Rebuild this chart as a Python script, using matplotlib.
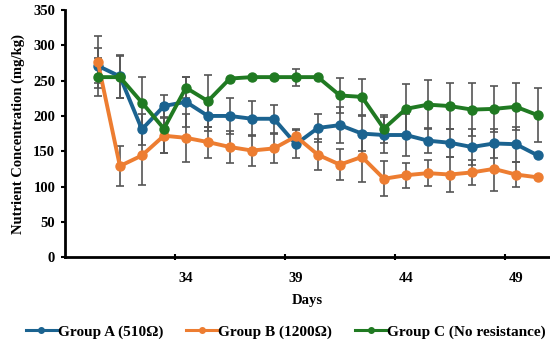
import numpy as np
import matplotlib
matplotlib.use("Agg")
import matplotlib.pyplot as plt
from matplotlib.ticker import FixedLocator

days = list(range(30, 51))

# Group A (510 ohm)
group_a = [271, 256, 181, 214, 220, 200, 200, 196, 196, 160, 183, 187, 175, 173, 173, 165, 162, 156, 161, 160, 144]
group_a_err = [25, 30, 22, 15, 35, 22, 25, 25, 20, 20, 20, 25, 25, 25, 30, 18, 20, 25, 20, 25, 0]

# Group B (1200 ohm)
group_b = [276, 129, 144, 172, 169, 163, 156, 151, 154, 171, 145, 131, 142, 111, 116, 119, 117, 120, 125, 117, 113]
group_b_err = [37, 28, 42, 25, 34, 22, 22, 22, 20, 10, 22, 22, 35, 25, 18, 18, 25, 18, 32, 18, 0]

# Group C (no resistance)
group_c = [255, 255, 219, 182, 240, 221, 253, 255, 255, 255, 255, 229, 227, 182, 210, 216, 214, 209, 210, 213, 201]
group_c_err = [27, 30, 36, 35, 15, 37, 0, 0, 0, 12, 0, 25, 25, 20, 35, 35, 32, 38, 33, 33, 38]

tick_days = [34, 39, 44, 49]

plt.rcParams['font.family'] = ['Liberation Serif', 'DejaVu Serif']
plt.rcParams['font.weight'] = 'bold'

fig = plt.figure(figsize=(5.5, 3.47), dpi=100)
ax = fig.add_axes([0.118, 0.259, 0.88, 0.712])

series = [
    (group_a, group_a_err, '#1B6390', 'Group A (510Ω)'),
    (group_b, group_b_err, '#ED7D31', 'Group B (1200Ω)'),
    (group_c, group_c_err, '#207A22', 'Group C (No resistance)'),
]

handles = []
for vals, errs, color, label in series:
    ax.errorbar(days, vals, yerr=errs, fmt='none', ecolor='#555555',
                elinewidth=1.2, capsize=3, capthick=1.2, zorder=2)
    ax.plot(days, vals, color=color, lw=2.8, marker='o', ms=6.5,
            zorder=3, label=label)
    handles.append(plt.Line2D([], [], color=color, lw=2.2, marker='o', ms=4))

ax.set_xlim(28.5, 50.5)
ax.set_ylim(0, 350)
ax.set_yticks(np.arange(0, 351, 50))
ax.set_xticks(tick_days)
ax.xaxis.set_minor_locator(FixedLocator([d - 0.5 for d in tick_days]))
ax.tick_params(axis='x', which='major', length=0, pad=11, labelsize=10.5)
ax.tick_params(axis='x', which='minor', length=4, direction='inout', width=1.5)
ax.tick_params(axis='y', which='major', length=3, width=1.5, labelsize=10.5, pad=4)

for side in ['top', 'right']:
    ax.spines[side].set_visible(False)
for side in ['left', 'bottom']:
    ax.spines[side].set_linewidth(2)

for t in ax.get_xticklabels() + ax.get_yticklabels():
    t.set_fontweight('bold')

ax.set_xlabel('Days', fontsize=10.5, fontweight='bold', labelpad=6)
ax.set_ylabel('Nutrient Concentration (mg/kg)', fontsize=10.5, fontweight='bold', labelpad=6)

fig.legend(handles, [s[3] for s in series], loc='center', ncol=3,
           bbox_to_anchor=(0.52, 0.043), frameon=False, handlelength=2.0,
           handletextpad=0.1, columnspacing=1.5,
           prop={'weight': 'bold', 'size': 11})

fig.savefig('out.png', dpi=100)
